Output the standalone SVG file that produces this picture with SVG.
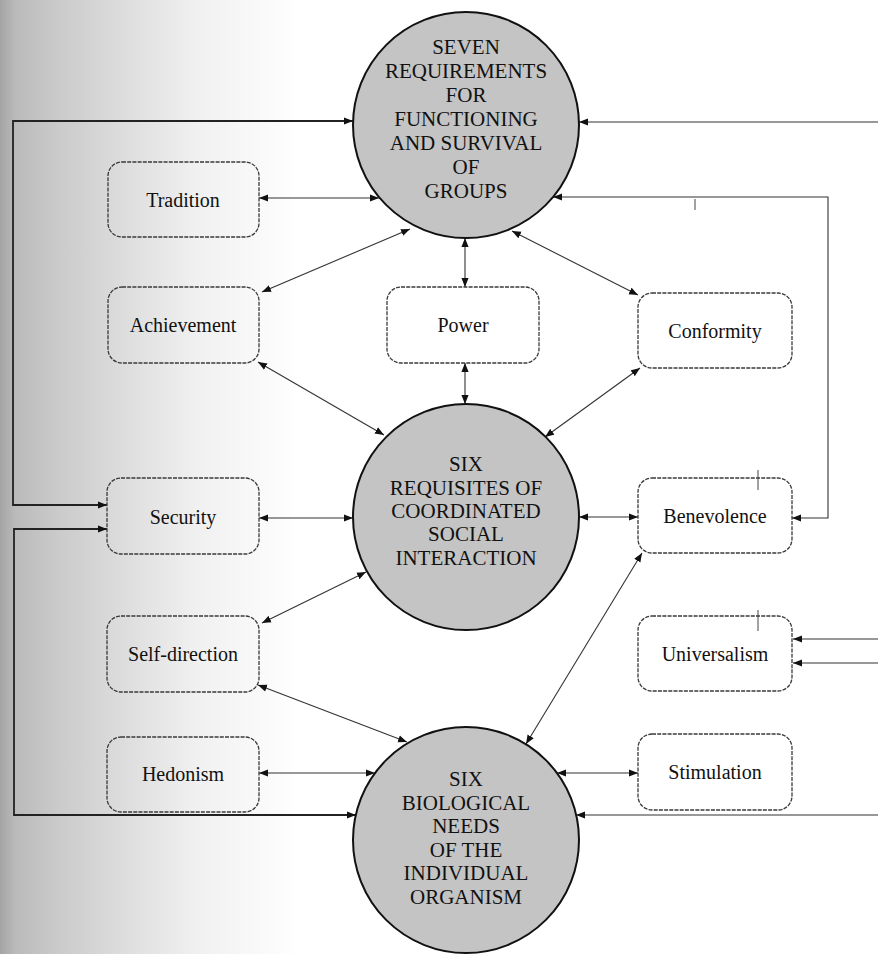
<svg xmlns="http://www.w3.org/2000/svg" width="878" height="954" viewBox="0 0 878 954">
<defs>
<linearGradient id="bg" gradientUnits="userSpaceOnUse" x1="0" y1="0" x2="300" y2="0">
<stop offset="0" stop-color="#a4a4a4"/>
<stop offset="0.05" stop-color="#bababa"/>
<stop offset="0.2" stop-color="#cbcbcb"/>
<stop offset="0.4" stop-color="#dcdcdc"/>
<stop offset="0.65" stop-color="#f0f0f0"/>
<stop offset="1" stop-color="#ffffff"/>
</linearGradient>
<marker id="ah" viewBox="0 0 10 8" refX="10" refY="4" markerWidth="9" markerHeight="8" markerUnits="userSpaceOnUse" orient="auto-start-reverse">
<path d="M0,0 L10,4 L0,8 z" fill="#111"/>
</marker>
</defs>
<style>
.circ{fill:#c4c4c4;stroke:#111;stroke-width:2}
.box{fill:none;stroke:#3a3a3a;stroke-width:1.3;stroke-dasharray:4 1.2}
.ct{font-family:"Liberation Serif","Times New Roman",serif;font-size:21px;fill:#111;text-anchor:middle}
.bt{font-family:"Liberation Serif","Times New Roman",serif;font-size:20px;fill:#111;text-anchor:middle}
.c{fill:none;stroke:#333;stroke-width:1.1}
.c2{fill:none;stroke:#222;stroke-width:1.8}
.b{marker-start:url(#ah);marker-end:url(#ah)}
.e{marker-end:url(#ah)}
.tk{stroke:#444;stroke-width:1}
</style>
<rect x="0" y="0" width="878" height="954" fill="url(#bg)"/>

<g id="connectors">
<path class="c2 b" d="M107,505 H13 V121 H353"/>
<path class="c2 b" d="M107,529 H14 V815 H356"/>
<path class="c e" d="M878,122 H579"/>
<path class="c b" d="M792,518 H828 V197 H553"/>
<path class="c e" d="M878,639 H793"/>
<path class="c e" d="M878,663 H793"/>
<path class="c e" d="M878,815 H576"/>
<path class="c b" d="M259,198 H379"/>
<path class="c b" d="M262,292 L410,229"/>
<path class="c b" d="M465,238 V287"/>
<path class="c b" d="M512,231 L638,295"/>
<path class="c b" d="M258,362 L384,435"/>
<path class="c b" d="M465,363 V404"/>
<path class="c b" d="M640,368 L545,437"/>
<path class="c b" d="M259,518 H353"/>
<path class="c b" d="M262,623 L366,572"/>
<path class="c b" d="M258,685 L407,742"/>
<path class="c b" d="M259,773 H375"/>
<path class="c b" d="M579,517 H638"/>
<path class="c b" d="M642,553 L526,744"/>
<path class="c b" d="M557,773 H638"/>
<line class="tk" x1="695" y1="199" x2="695" y2="210"/>
<line class="tk" x1="758" y1="470" x2="758" y2="490"/>
<line class="tk" x1="758" y1="610" x2="758" y2="631"/>
</g>

<g id="top-circle">
<circle class="circ" cx="466" cy="125" r="113"/>
<text class="ct" x="466" y="54">SEVEN</text>
<text class="ct" x="466" y="78">REQUIREMENTS</text>
<text class="ct" x="466" y="102">FOR</text>
<text class="ct" x="466" y="126">FUNCTIONING</text>
<text class="ct" x="466" y="150">AND SURVIVAL</text>
<text class="ct" x="466" y="174">OF</text>
<text class="ct" x="466" y="198">GROUPS</text>
</g>

<g id="middle-circle">
<circle class="circ" cx="466" cy="517" r="113"/>
<text class="ct" x="466" y="471">SIX</text>
<text class="ct" x="466" y="495">REQUISITES OF</text>
<text class="ct" x="466" y="518">COORDINATED</text>
<text class="ct" x="466" y="541">SOCIAL</text>
<text class="ct" x="466" y="565">INTERACTION</text>
</g>

<g id="bottom-circle">
<circle class="circ" cx="466" cy="840" r="113"/>
<text class="ct" x="466" y="786">SIX</text>
<text class="ct" x="466" y="810">BIOLOGICAL</text>
<text class="ct" x="466" y="833">NEEDS</text>
<text class="ct" x="466" y="857">OF THE</text>
<text class="ct" x="466" y="880">INDIVIDUAL</text>
<text class="ct" x="466" y="904">ORGANISM</text>
</g>

<g id="tradition"><rect class="box" x="108" y="162" width="151" height="75" rx="14"/><text class="bt" x="183" y="207">Tradition</text></g>
<g id="achievement"><rect class="box" x="108" y="287" width="151" height="76" rx="14"/><text class="bt" x="183" y="332">Achievement</text></g>
<g id="power"><rect class="box" x="387" y="287" width="152" height="76" rx="14"/><text class="bt" x="463" y="332">Power</text></g>
<g id="conformity"><rect class="box" x="638" y="293" width="154" height="75" rx="14"/><text class="bt" x="715" y="338">Conformity</text></g>
<g id="security"><rect class="box" x="107" y="478" width="152" height="76" rx="14"/><text class="bt" x="183" y="524">Security</text></g>
<g id="self-direction"><rect class="box" x="107" y="616" width="152" height="76" rx="14"/><text class="bt" x="183" y="661">Self-direction</text></g>
<g id="hedonism"><rect class="box" x="107" y="737" width="152" height="75" rx="14"/><text class="bt" x="183" y="781">Hedonism</text></g>
<g id="benevolence"><rect class="box" x="638" y="478" width="154" height="75" rx="14"/><text class="bt" x="715" y="523">Benevolence</text></g>
<g id="universalism"><rect class="box" x="638" y="616" width="154" height="75" rx="14"/><text class="bt" x="715" y="661">Universalism</text></g>
<g id="stimulation"><rect class="box" x="638" y="734" width="154" height="76" rx="14"/><text class="bt" x="715" y="779">Stimulation</text></g>
</svg>
